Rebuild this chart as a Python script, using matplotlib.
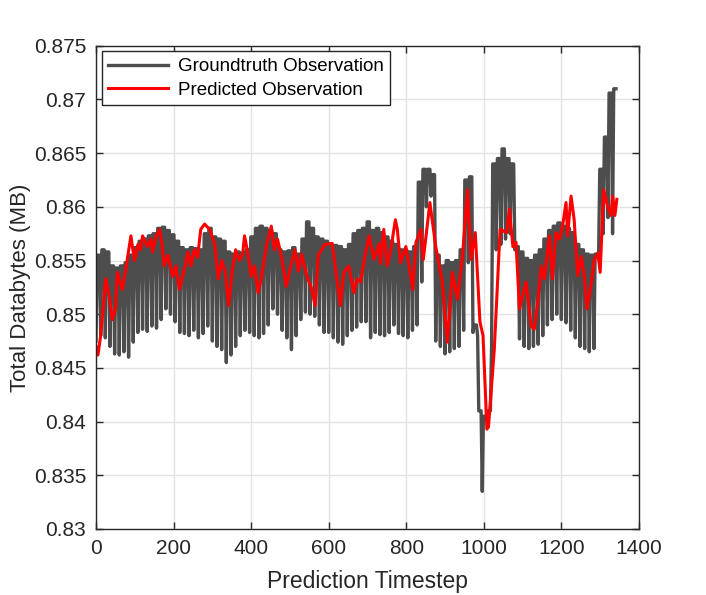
import numpy as np
import matplotlib
matplotlib.use('Agg')
import matplotlib.pyplot as plt
from matplotlib.ticker import FuncFormatter

plt.rcParams['font.family'] = ['Liberation Sans', 'DejaVu Sans']

# groundtruth: one dip per 12-step cycle, low at the start then a high plateau
cycle_len = 12
gt_low = [0.8475, 0.8480, 0.8478, 0.8470, 0.8463, 0.8462, 0.8465, 0.8460, 0.8474, 0.8483,
          0.8486, 0.8484, 0.8489, 0.8487, 0.8495, 0.8505, 0.8500, 0.8493, 0.8483, 0.8482,
          0.8480, 0.8485, 0.8478, 0.8482, 0.8489, 0.8475, 0.8470, 0.8467, 0.8455, 0.8462,
          0.8470, 0.8480, 0.8485, 0.8483, 0.8480, 0.8478, 0.8482, 0.8490, 0.8505, 0.8500,
          0.8485, 0.8478, 0.8467, 0.8480, 0.8495, 0.8502, 0.8500, 0.8498, 0.8490, 0.8483,
          0.8483, 0.8478, 0.8474, 0.8472, 0.8480, 0.8485, 0.8488, 0.8493, 0.8493, 0.8478,
          0.8483, 0.8481, 0.8480, 0.8483, 0.8490, 0.8482, 0.8480, 0.8478, 0.8485, 0.8490,
          0.8530, 0.8600, 0.8610, 0.8475, 0.8470, 0.8463, 0.8465, 0.8468, 0.8470, 0.8485,
          0.8548, 0.8483, 0.8480, 0.8335, 0.8405, 0.8470, 0.8560, 0.8565, 0.8570, 0.8575,
          0.8560, 0.8477, 0.8470, 0.8468, 0.8470, 0.8472, 0.8480, 0.8490, 0.8495, 0.8500,
          0.8495, 0.8492, 0.8485, 0.8478, 0.8470, 0.8468, 0.8465, 0.8468, 0.8555, 0.8575,
          0.8590, 0.8575]
gt_high = [0.8555, 0.8560, 0.8558, 0.8545, 0.8543, 0.8545, 0.8548, 0.8555, 0.8562, 0.8568,
           0.8570, 0.8573, 0.8575, 0.8580, 0.8581, 0.8578, 0.8574, 0.8568, 0.8562, 0.8560,
           0.8562, 0.8561, 0.8560, 0.8575, 0.8580, 0.8572, 0.8570, 0.8568, 0.8558, 0.8556,
           0.8558, 0.8557, 0.8560, 0.8572, 0.8580, 0.8582, 0.8580, 0.8578, 0.8575, 0.8560,
           0.8558, 0.8559, 0.8562, 0.8556, 0.8570, 0.8586, 0.8580, 0.8572, 0.8570, 0.8568,
           0.8565, 0.8564, 0.8563, 0.8560, 0.8565, 0.8575, 0.8578, 0.8580, 0.8586, 0.8578,
           0.8580, 0.8576, 0.8572, 0.8568, 0.8565, 0.8560, 0.8560, 0.8558, 0.8563, 0.8623,
           0.8635, 0.8635, 0.8630, 0.8555, 0.8545, 0.8550, 0.8548, 0.8550, 0.8560, 0.8625,
           0.8628, 0.8490, 0.8410, 0.8405, 0.8410, 0.8640, 0.8645, 0.8654, 0.8645, 0.8640,
           0.8563, 0.8558, 0.8552, 0.8550, 0.8555, 0.8560, 0.8570, 0.8578, 0.8582, 0.8585,
           0.8582, 0.8580, 0.8576, 0.8565, 0.8560, 0.8556, 0.8555, 0.8556, 0.8635, 0.8665,
           0.8706, 0.8710]

# predicted observation, read at irregular timesteps
pred_t = [0, 5, 12, 25, 35, 42, 50, 55, 62, 68, 78, 90, 99, 108, 115, 120, 133, 142, 146, 155,
          164, 170, 176, 185, 198, 206, 215, 230, 237, 245, 253, 262, 270, 280, 293, 306, 315, 324, 333, 342,
          351, 360, 370, 378, 383, 392, 400, 409, 418, 427, 440, 452, 460, 468, 478, 491, 502, 513, 522, 530,
          544, 555, 565, 573, 590, 609, 622, 630, 639, 652, 665, 673, 682, 695, 704, 717, 730, 734, 742, 751,
          760, 772, 777, 785, 799, 817, 825, 838, 844, 861, 876, 893, 906, 919, 932, 945, 958, 967, 978, 990,
          998, 1008, 1012, 1027, 1042, 1059, 1066, 1075, 1083, 1092, 1109, 1122, 1130, 1139, 1148, 1156, 1169, 1177, 1186, 1195,
          1203, 1212, 1216, 1225, 1233, 1242, 1251, 1259, 1266, 1276, 1285, 1294, 1300, 1309, 1319, 1328, 1332, 1338, 1343]
pred_v = [0.8470, 0.8462, 0.8480, 0.8533, 0.8515, 0.8495, 0.8505, 0.8539, 0.8530, 0.8523,
          0.8545, 0.8573, 0.8550, 0.8565, 0.8560, 0.8573, 0.8563, 0.8570, 0.8558, 0.8573,
          0.8579, 0.8565, 0.8545, 0.8555, 0.8535, 0.8545, 0.8523, 0.8545, 0.8558, 0.8545,
          0.8560, 0.8553, 0.8579, 0.8584, 0.8579, 0.8565, 0.8533, 0.8550, 0.8540, 0.8508,
          0.8540, 0.8560, 0.8550, 0.8556, 0.8573, 0.8556, 0.8535, 0.8545, 0.8520, 0.8535,
          0.8565, 0.8582, 0.8560, 0.8570, 0.8554, 0.8526, 0.8545, 0.8560, 0.8540, 0.8556,
          0.8535, 0.8525, 0.8508, 0.8555, 0.8565, 0.8566, 0.8530, 0.8508, 0.8539, 0.8545,
          0.8520, 0.8533, 0.8530, 0.8557, 0.8573, 0.8551, 0.8566, 0.8547, 0.8579, 0.8545,
          0.8560, 0.8588, 0.8579, 0.8548, 0.8563, 0.8523, 0.8567, 0.8579, 0.8551, 0.8604,
          0.8563, 0.8530, 0.8474, 0.8539, 0.8514, 0.8554, 0.8616, 0.8551, 0.8576, 0.8493,
          0.8480, 0.8393, 0.8395, 0.8467, 0.8579, 0.8576, 0.8598, 0.8563, 0.8567, 0.8505,
          0.8530, 0.8489, 0.8486, 0.8511, 0.8545, 0.8533, 0.8573, 0.8533, 0.8576, 0.8570,
          0.8582, 0.8604, 0.8573, 0.8610, 0.8588, 0.8536, 0.8554, 0.8536, 0.8505, 0.8526,
          0.8551, 0.8557, 0.8539, 0.8616, 0.8601, 0.8592, 0.8610, 0.8592, 0.8607]

# build the groundtruth line from the per-cycle lows and highs
gt_t, gt_v = [], []
for k in range(len(gt_high)):
    start = k * cycle_len
    gt_t += [start, start + 3, start + 9]
    gt_v += [gt_low[k], gt_high[k], gt_high[k]]

fig = plt.figure(figsize=(7.06, 5.95), dpi=100)
ax = fig.add_axes([0.136, 0.111, 0.769, 0.812])

ax.plot(gt_t, gt_v, color='#4d4d4d', lw=2.4, label='Groundtruth Observation')
ax.plot(pred_t, pred_v, color='#ff0000', lw=2.2, label='Predicted Observation')

ax.set_xlim(0, 1400)
ax.set_ylim(0.83, 0.875)
ax.set_xticks(np.arange(0, 1401, 200))
ax.set_yticks(np.arange(0.83, 0.8751, 0.005))
ax.yaxis.set_major_formatter(FuncFormatter(lambda v, p: '%g' % round(v, 3)))

ax.grid(True, color='#e3e3e3', lw=1.0)
ax.set_axisbelow(True)
ax.tick_params(direction='in', length=5, width=1, colors='#262626',
               labelsize=15, top=True, right=True, labelcolor='#262626', pad=7)
for s in ax.spines.values():
    s.set_color('#262626')
    s.set_linewidth(1.0)

ax.set_xlabel('Prediction Timestep', fontsize=16.5, color='#262626', labelpad=9)
ax.set_ylabel('Total Databytes (MB)', fontsize=16, color='#262626', labelpad=2)

leg = ax.legend(loc='upper left', fontsize=13.5, handlelength=3.2, fancybox=False,
                framealpha=1, edgecolor='#262626', borderaxespad=0.3,
                borderpad=0.35, labelspacing=0.35, handletextpad=0.5)
leg.get_frame().set_linewidth(1.0)

fig.savefig('out.png', dpi=100)
